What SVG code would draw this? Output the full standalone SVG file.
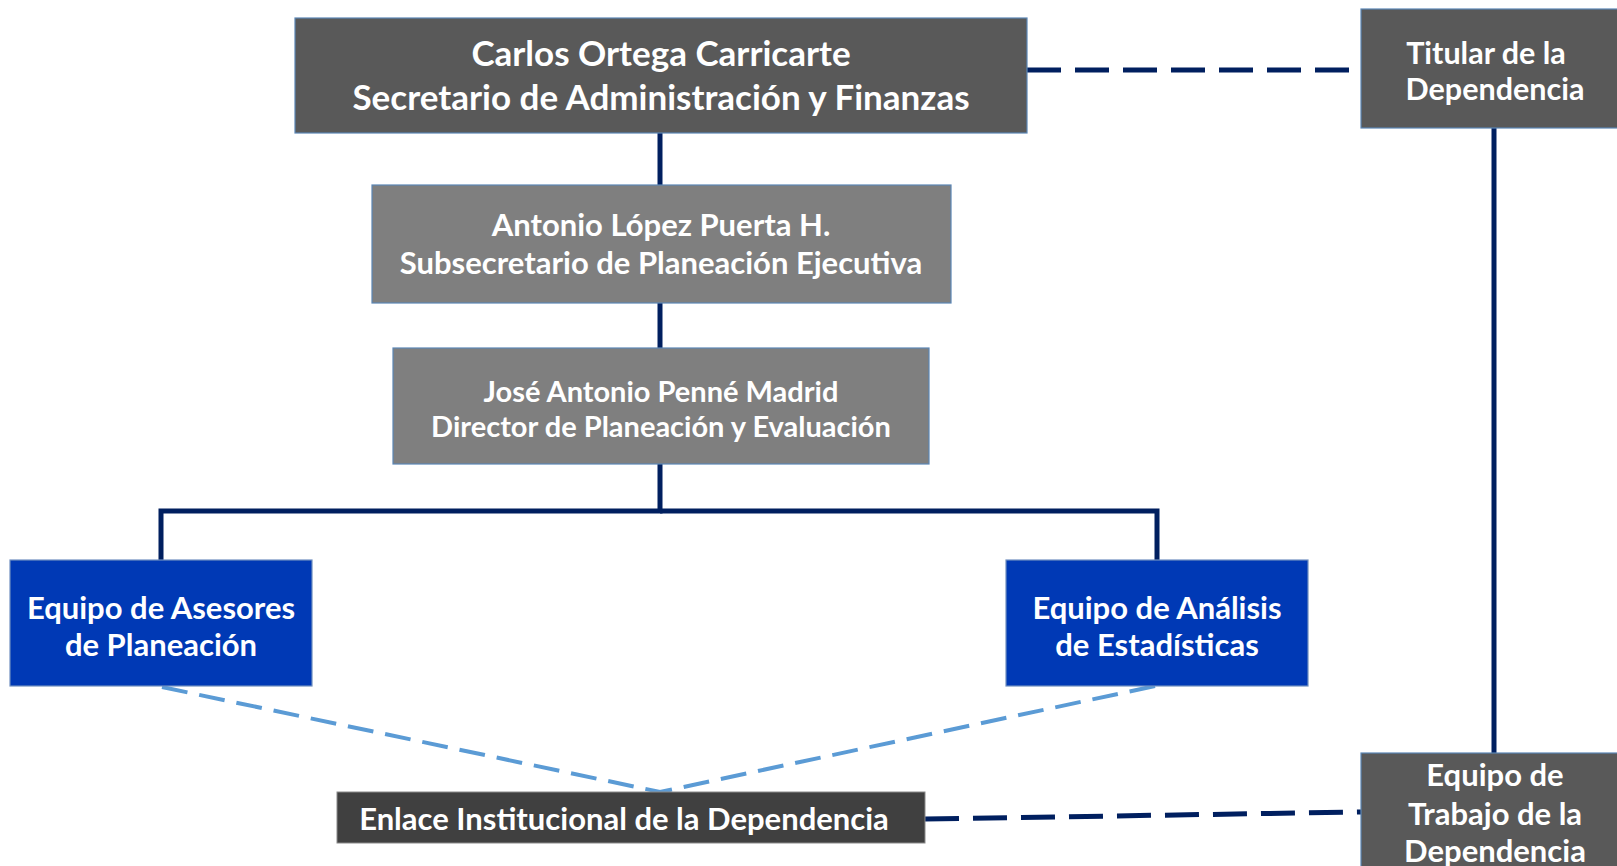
<svg xmlns="http://www.w3.org/2000/svg" width="1617" height="866" viewBox="0 0 1617 866">
<style>
.t{font-family:"Lato","Open Sans","Liberation Sans",sans-serif;font-weight:bold;fill:#fff;text-anchor:middle}
.dk{fill:#595959;stroke:#5b86b5;stroke-width:1.2}
.md{fill:#7f7f7f;stroke:#5b86b5;stroke-width:1.2}
.bl{fill:#0039b5;stroke:#6f8fc0;stroke-width:1.2}
.en{fill:#404040;stroke:#8a8a8a;stroke-width:1}
.solid{stroke:#001f5f;stroke-width:5;fill:none}
.dash{stroke:#001f5f;stroke-width:5;fill:none;stroke-dasharray:34 14}
.ldash{stroke:#5b9bd5;stroke-width:4;fill:none;stroke-dasharray:26 12}
</style>
<rect width="1617" height="866" fill="#fff"/>
<g id="connectors">
<line class="solid" x1="660" y1="133" x2="660" y2="185"/>
<line class="solid" x1="660" y1="303" x2="660" y2="348"/>
<polyline class="solid" points="660,464 660,511 161,511 161,560"/>
<polyline class="solid" points="660,511 1157,511 1157,560"/>
<line class="solid" x1="1494" y1="128" x2="1494" y2="753"/>
<line class="dash" x1="1027" y1="70" x2="1361" y2="70"/>
<line class="dash" x1="925" y1="819" x2="1361" y2="812"/>
<line class="ldash" x1="162" y1="687" x2="660" y2="792"/>
<line class="ldash" x1="1155" y1="686" x2="660" y2="792"/>
</g>
<g id="n-secretario">
<rect class="dk" x="295" y="18" width="732" height="115"/>
<text class="t" x="661" y="66" font-size="35">Carlos Ortega Carricarte</text>
<text class="t" x="661" y="110" font-size="35">Secretario de Administración y Finanzas</text>
</g>
<g id="n-titular">
<rect class="dk" x="1361" y="9" width="260" height="119"/>
<text class="t" x="1486" y="64" font-size="30.5">Titular de la</text>
<text class="t" x="1495" y="100" font-size="30.5">Dependencia</text>
</g>
<g id="n-subsecretario">
<rect class="md" x="372" y="185" width="579" height="118"/>
<text class="t" x="661" y="236" font-size="31">Antonio López Puerta H.</text>
<text class="t" x="661" y="274" font-size="31">Subsecretario de Planeación Ejecutiva</text>
</g>
<g id="n-director">
<rect class="md" x="393" y="348" width="536" height="116"/>
<text class="t" x="661" y="402" font-size="29">José Antonio Penné Madrid</text>
<text class="t" x="661" y="437" font-size="29">Director de Planeación y Evaluación</text>
</g>
<g id="n-asesores">
<rect class="bl" x="10" y="560" width="302" height="126"/>
<text class="t" x="161" y="619" font-size="31">Equipo de Asesores</text>
<text class="t" x="161" y="656" font-size="31">de Planeación</text>
</g>
<g id="n-analisis">
<rect class="bl" x="1006" y="560" width="302" height="126"/>
<text class="t" x="1157" y="619" font-size="31">Equipo de Análisis</text>
<text class="t" x="1157" y="656" font-size="31">de Estadísticas</text>
</g>
<g id="n-enlace">
<rect class="en" x="337" y="792" width="588" height="51"/>
<text class="t" x="624" y="830" font-size="31">Enlace Institucional de la Dependencia</text>
</g>
<g id="n-equipo">
<rect class="dk" x="1361" y="753" width="260" height="120"/>
<text class="t" x="1495" y="786" font-size="31">Equipo de</text>
<text class="t" x="1495" y="825" font-size="31">Trabajo de la</text>
<text class="t" x="1495" y="862" font-size="31">Dependencia</text>
</g>
</svg>
